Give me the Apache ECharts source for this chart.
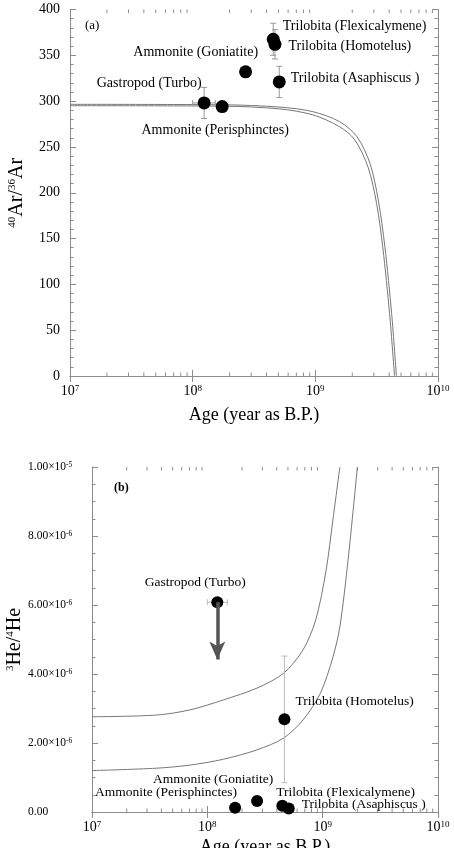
<!DOCTYPE html>
<html>
<head>
<meta charset="utf-8">
<script src="https://cdn.jsdelivr.net/npm/echarts@6/dist/echarts.min.js"></script>
<style>
html, body { margin: 0; padding: 0; background: #fff; }
#chart { width: 454px; height: 848px; }
</style>
</head>
<body>
<div id="chart"></div>
<script>
// sample names, same order in both panels
var taxa = ['Gastropod (Turbo)', 'Ammonite (Perisphinctes)', 'Ammonite (Goniatite)',
	'Trilobita (Flexicalymene)', 'Trilobita (Homotelus)', 'Trilobita (Asaphiscus )'];

// (a) 40Ar/36Ar
var ageA = [1.24e8, 1.74e8, 2.7e8, 4.54e8, 4.69e8, 5.08e8];
var arRatio = [298, 294, 332, 367.5, 362, 321];
var arLow = [281, 290, 332, 350, 346, 304];
var arHigh = [315, 298, 332, 385, 378, 338];
var ageLowA = [1.0e8, 1.58e8, 2.7e8, 4.54e8, 4.69e8, 5.08e8];
var ageHighA = [1.53e8, 1.9e8, 2.7e8, 4.54e8, 4.69e8, 5.08e8];

// (a) model curves
var arCurveAgeOuter = [1e7, 1.78e8, 5.13e8, 9.55e8, 1.58e9, 2.19e9, 2.79e9, 3.26e9, 3.69e9, 4.19e9, 4.58e9];
var arCurveOuter = [296.5, 296, 293.5, 288.5, 277.5, 261, 232, 192, 141, 68, 0];
var arCurveAgeInner = [1e7, 1.78e8, 5.13e8, 9.55e8, 1.58e9, 2.09e9, 2.69e9, 3.16e9, 3.55e9, 4.03e9, 4.42e9];
var arCurveInner = [295, 294.5, 291.5, 285, 272, 258, 228, 188, 140, 68, 0];

// (b) 3He/4He
var ageB = [1.22e8, 1.74e8, 2.7e8, 4.47e8, 4.66e8, 5.08e8];
var heRatio = [6.08e-6, 0.12e-6, 0.32e-6, 0.18e-6, 2.69e-6, 0.10e-6];
var heLow = [6.08e-6, 0.12e-6, 0.32e-6, 0.18e-6, 0.85e-6, 0.10e-6];
var heHigh = [6.08e-6, 0.12e-6, 0.32e-6, 0.18e-6, 4.52e-6, 0.10e-6];
var ageLowB = [1.0e8, 1.74e8, 2.7e8, 4.47e8, 4.66e8, 5.08e8];
var ageHighB = [1.49e8, 1.74e8, 2.7e8, 4.47e8, 4.66e8, 5.08e8];
var turboArrowTip = 4.42e-6;

// (b) model curves
var heCurveAgeUpper = [1e7, 3.63e7, 7.08e7, 1.38e8, 2.69e8, 4.57e8, 6.76e8, 8.71e8, 1.07e9, 1.23e9, 1.41e9];
var heCurveUpper = [2.76e-6, 2.81e-6, 2.96e-6, 3.25e-6, 3.59e-6, 4.02e-6, 4.70e-6, 5.57e-6, 7.0e-6, 8.5e-6, 10.0e-6];
var heCurveAgeLower = [1e7, 3.63e7, 7.08e7, 1.38e8, 2.69e8, 4.57e8, 6.76e8, 9.55e8, 1.23e9, 1.41e9, 1.66e9, 2.0e9];
var heCurveLower = [1.20e-6, 1.27e-6, 1.36e-6, 1.53e-6, 1.80e-6, 2.14e-6, 2.67e-6, 3.44e-6, 4.50e-6, 5.37e-6, 7.3e-6, 10.0e-6];

// tick labels
var ageTickLabels = ['10{sup|7}', '10{sup|8}', '10{sup|9}', '10{sup|10}'];
var heTickLabels = ['0.00', '2.00\u00d710{sup|-6}', '4.00\u00d710{sup|-6}', '6.00\u00d710{sup|-6}',
	'8.00\u00d710{sup|-6}', '1.00\u00d710{sup|-5}'];
var minorMantissa = [2, 3, 4, 5, 6, 7, 8, 9];
var decades = [1e7, 1e8, 1e9];

// label placement (style, not data)
var labelPosA = [
	{ position: 'left', offset: [9, -20] },
	{ position: 'bottom', offset: [-7, 5] },
	{ position: 'left', offset: [24, -19] },
	{ position: 'right', offset: [-2, -13] },
	{ position: 'right', offset: [2, 2] },
	{ position: 'right', offset: [0, -4] }
];
var labelPosB = [
	{ position: 'top', offset: [-22, -2] },
	{ position: 'left', offset: [13, -15] },
	{ position: 'top', offset: [-44, -4] },
	{ position: 'right', offset: [-17, -13] },
	{ position: 'right', offset: [0, -18] },
	{ position: 'right', offset: [2, -4] }
];

var serif = "'Liberation Serif', 'DejaVu Serif', serif";
var axisGrey = '#8c8c8c';

var minorAges = [];
for (var d = 0; d < decades.length; d++) {
	for (var m = 0; m < minorMantissa.length; m++) {
		minorAges.push([minorMantissa[m] * decades[d], 0]);
	}
}

function zip(xs, ys) {
	var out = [];
	for (var i = 0; i < xs.length; i++) out.push([xs[i], ys[i]]);
	return out;
}

function pointData(ages, vals, pos) {
	var out = [];
	for (var i = 0; i < ages.length; i++) {
		out.push({
			name: taxa[i],
			value: [ages[i], vals[i]],
			label: { position: pos[i].position, offset: pos[i].offset }
		});
	}
	return out;
}

function errData(ages, vals, lo, hi, alo, ahi) {
	var out = [];
	for (var i = 0; i < ages.length; i++) out.push([ages[i], vals[i], lo[i], hi[i], alo[i], ahi[i]]);
	return out;
}

function errorBarItem(color) {
	return function (params, api) {
		var x = api.value(0), y = api.value(1);
		var c = api.coord([x, y]);
		var kids = [];
		var cap = 3;
		var st = { stroke: color, lineWidth: 1 };
		if (api.value(3) > api.value(2)) {
			var p1 = api.coord([x, api.value(2)]), p2 = api.coord([x, api.value(3)]);
			kids.push({ type: 'line', shape: { x1: c[0], y1: p1[1], x2: c[0], y2: p2[1] }, style: st });
			kids.push({ type: 'line', shape: { x1: c[0] - cap, y1: p1[1], x2: c[0] + cap, y2: p1[1] }, style: st });
			kids.push({ type: 'line', shape: { x1: c[0] - cap, y1: p2[1], x2: c[0] + cap, y2: p2[1] }, style: st });
		}
		if (api.value(5) > api.value(4)) {
			var q1 = api.coord([api.value(4), y]), q2 = api.coord([api.value(5), y]);
			kids.push({ type: 'line', shape: { x1: q1[0], y1: c[1], x2: q2[0], y2: c[1] }, style: st });
			kids.push({ type: 'line', shape: { x1: q1[0], y1: c[1] - cap, x2: q1[0], y2: c[1] + cap }, style: st });
			kids.push({ type: 'line', shape: { x1: q2[0], y1: c[1] - cap, x2: q2[0], y2: c[1] + cap }, style: st });
		}
		return { type: 'group', children: kids };
	};
}

function minorTickItem(params, api) {
	var cs = params.coordSys;
	var px = api.coord([api.value(0), 0])[0];
	var st = { stroke: axisGrey, lineWidth: 1 };
	var bottom = cs.y + cs.height;
	return {
		type: 'group', children: [
			{ type: 'line', shape: { x1: px, y1: bottom, x2: px, y2: bottom - 3.5 }, style: st },
			{ type: 'line', shape: { x1: px, y1: cs.y, x2: px, y2: cs.y + 3.5 }, style: st }
		]
	};
}

function ageAxis(grid, pos, showLabel, nameGap) {
	return {
		gridIndex: grid, type: 'log', logBase: 10, min: 1e7, max: 1e10, position: pos,
		axisLine: { lineStyle: { color: axisGrey } },
		axisTick: { inside: true, length: 6, lineStyle: { color: axisGrey } },
		splitLine: { show: false },
		axisLabel: {
			show: showLabel, margin: 8, fontFamily: serif, fontSize: 14, color: '#000',
			formatter: function (v, i) { return ageTickLabels[i]; },
			rich: {
				sup: { fontSize: 9, fontFamily: serif, color: '#000', verticalAlign: 'top' }
			}
		},
		name: showLabel ? 'Age (year as B.P.)' : '',
		nameLocation: 'middle', nameGap: nameGap, nameMoveOverlap: false,
		nameTextStyle: { fontFamily: serif, fontSize: 18, color: '#000' }
	};
}

var option = {
	animation: false,
	backgroundColor: '#fff',
	textStyle: { fontFamily: serif },
	grid: [
		{ left: 70, top: 9.5, width: 368, height: 366.5, containLabel: false, outerBoundsMode: 'none' },
		{ left: 92, top: 467, width: 346, height: 345, containLabel: false, outerBoundsMode: 'none' }
	],
	xAxis: [
		ageAxis(0, 'bottom', true, 30),
		ageAxis(0, 'top', false, 0),
		ageAxis(1, 'bottom', true, 26),
		ageAxis(1, 'top', false, 0)
	],
	yAxis: [
		{
			gridIndex: 0, type: 'value', min: 0, max: 400, interval: 50, position: 'left',
			axisLine: { show: true, lineStyle: { color: axisGrey } },
			axisTick: { show: true, inside: true, length: 6, lineStyle: { color: axisGrey } },
			minorTick: { show: true, splitNumber: 5, length: 3.5, lineStyle: { color: axisGrey } },
			splitLine: { show: false },
			axisLabel: { margin: 10, fontFamily: serif, fontSize: 14, color: '#000' },
			name: '{sup|40}Ar/{sup|36}Ar', nameLocation: 'middle', nameGap: 43, nameRotate: 90,
			nameMoveOverlap: false,
			nameTextStyle: {
				fontFamily: serif, fontSize: 20, color: '#000',
				rich: { sup: { fontSize: 11, fontFamily: serif, color: '#000', verticalAlign: 'top' } }
			}
		},
		{
			gridIndex: 0, type: 'value', min: 0, max: 400, interval: 50, position: 'right',
			axisLine: { show: true, lineStyle: { color: axisGrey } },
			axisTick: { show: true, inside: true, length: 6, lineStyle: { color: axisGrey } },
			minorTick: { show: true, splitNumber: 5, length: 3.5, lineStyle: { color: axisGrey } },
			splitLine: { show: false },
			axisLabel: { show: false }
		},
		{
			gridIndex: 1, type: 'value', min: 0, max: 1e-5, interval: 2e-6, position: 'left',
			axisLine: { show: true, lineStyle: { color: axisGrey } },
			axisTick: { show: true, inside: true, length: 6, lineStyle: { color: axisGrey } },
			minorTick: { show: true, splitNumber: 4, length: 3.5, lineStyle: { color: axisGrey } },
			splitLine: { show: false },
			axisLabel: {
				margin: 64, align: 'left', fontFamily: serif, fontSize: 11.5, color: '#000',
				formatter: function (v) { return heTickLabels[Math.round(v / 2e-6)]; },
				rich: { sup: { fontSize: 7.5, fontFamily: serif, color: '#000', verticalAlign: 'top' } }
			},
			name: '{sup|3}He/{sup|4}He', nameLocation: 'middle', nameGap: 67, nameRotate: 90,
			nameMoveOverlap: false,
			nameTextStyle: {
				fontFamily: serif, fontSize: 20, color: '#000',
				rich: { sup: { fontSize: 11, fontFamily: serif, color: '#000', verticalAlign: 'top' } }
			}
		},
		{
			gridIndex: 1, type: 'value', min: 0, max: 1e-5, interval: 2e-6, position: 'right',
			axisLine: { show: true, lineStyle: { color: axisGrey } },
			axisTick: { show: true, inside: true, length: 6, lineStyle: { color: axisGrey } },
			minorTick: { show: true, splitNumber: 4, length: 3.5, lineStyle: { color: axisGrey } },
			splitLine: { show: false },
			axisLabel: { show: false }
		}
	],
	graphic: [
		{ type: 'text', left: 85, top: 19, style: { text: '(a)', font: '13px ' + serif, fill: '#000' } },
		{ type: 'text', left: 114, top: 482, style: { text: '(b)', font: 'bold 12px ' + serif, fill: '#000' } }
	],
	series: [
		// minor log ticks
		{ type: 'custom', xAxisIndex: 0, yAxisIndex: 0, silent: true, renderItem: minorTickItem, data: minorAges, z: 1 },
		{ type: 'custom', xAxisIndex: 2, yAxisIndex: 2, silent: true, renderItem: minorTickItem, data: minorAges, z: 1 },
		// (a) model curves
		{
			type: 'line', xAxisIndex: 0, yAxisIndex: 0, data: zip(arCurveAgeOuter, arCurveOuter),
			smooth: 0.3, symbol: 'none', lineStyle: { color: '#777', width: 1 }, z: 2
		},
		{
			type: 'line', xAxisIndex: 0, yAxisIndex: 0, data: zip(arCurveAgeInner, arCurveInner),
			smooth: 0.3, symbol: 'none', lineStyle: { color: '#777', width: 1 }, z: 2
		},
		// (a) error bars
		{
			type: 'custom', xAxisIndex: 0, yAxisIndex: 0, silent: true,
			renderItem: errorBarItem('#999'),
			data: errData(ageA, arRatio, arLow, arHigh, ageLowA, ageHighA), z: 3
		},
		// (a) points
		{
			type: 'scatter', xAxisIndex: 0, yAxisIndex: 0, symbol: 'circle', symbolSize: 13,
			itemStyle: { color: '#000', opacity: 1 }, z: 4,
			label: { show: true, formatter: '{b}', fontFamily: serif, fontSize: 14, color: '#000', distance: 5 },
			data: pointData(ageA, arRatio, labelPosA)
		},
		// (b) model curves
		{
			type: 'line', xAxisIndex: 2, yAxisIndex: 2, data: zip(heCurveAgeUpper, heCurveUpper),
			smooth: 0.3, symbol: 'none', lineStyle: { color: '#777', width: 1 }, z: 2
		},
		{
			type: 'line', xAxisIndex: 2, yAxisIndex: 2, data: zip(heCurveAgeLower, heCurveLower),
			smooth: 0.3, symbol: 'none', lineStyle: { color: '#777', width: 1 }, z: 2
		},
		// (b) error bars
		{
			type: 'custom', xAxisIndex: 2, yAxisIndex: 2, silent: true,
			renderItem: errorBarItem('#bbb'),
			data: errData(ageB, heRatio, heLow, heHigh, ageLowB, ageHighB), z: 3
		},
		// (b) points
		{
			type: 'scatter', xAxisIndex: 2, yAxisIndex: 2, symbol: 'circle', symbolSize: 12,
			itemStyle: { color: '#000', opacity: 1 }, z: 4,
			label: { show: true, formatter: '{b}', fontFamily: serif, fontSize: 13.5, color: '#000', distance: 5 },
			data: pointData(ageB, heRatio, labelPosB),
			markLine: {
				silent: true, symbol: ['none', 'arrow'], symbolSize: [12, 18],
				lineStyle: { color: '#555', width: 3.5, type: 'solid' },
				label: { show: false },
				data: [[{ coord: [ageB[0], heRatio[0]] }, { coord: [ageB[0], turboArrowTip] }]]
			}
		}
	]
};

var myChart = echarts.init(document.getElementById('chart'));
myChart.setOption(option);
</script>
</body>
</html>
